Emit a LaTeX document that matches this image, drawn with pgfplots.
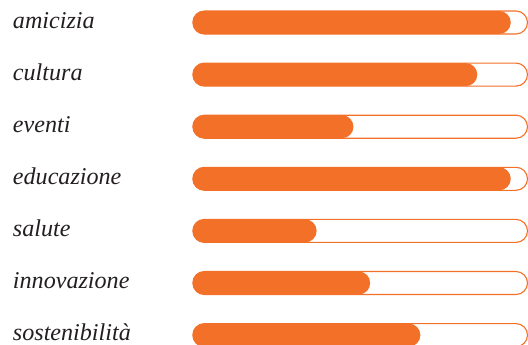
\documentclass[border=0pt]{standalone}
\usepackage{pgfplots}
\pgfplotsset{compat=1.18}
\usepackage{fontspec}
\setmainfont{Liberation Serif}
\definecolor{barc}{HTML}{F37029}
\definecolor{txt}{HTML}{231F20}
\begin{document}
\begin{tikzpicture}
\begin{axis}[
  scale only axis, width=528bp, height=345bp,
  hide axis, xmin=-57.61, xmax=100.15, ymin=-0.432, ymax=6.19, y dir=reverse,
  clip=true,
]
\addplot[xbar, bar shift=0pt, bar width=23bp, fill=white, draw=barc, line width=1.1bp, rounded corners=11.5bp]
  coordinates {(100,0) (100,1) (100,2) (100,3) (100,4) (100,5) (100,6)};
\addplot[xbar, bar shift=0pt, bar width=23bp, fill=barc, draw=none, rounded corners=11.5bp]
  coordinates {(95,0) (85,1) (48,2) (95,3) (37,4) (53,5) (68,6)};
\tikzset{lab/.style={anchor=base west, inner sep=0pt, text=txt, font=\itshape\fontsize{24.2}{28}\selectfont}}
\node[lab] at (axis cs:-53.8,0.111) {amicizia};
\node[lab] at (axis cs:-53.8,1.111) {cultura};
\node[lab] at (axis cs:-53.8,2.111) {eventi};
\node[lab] at (axis cs:-53.8,3.111) {educazione};
\node[lab] at (axis cs:-53.8,4.111) {salute};
\node[lab] at (axis cs:-53.8,5.111) {innovazione};
\node[lab] at (axis cs:-53.8,6.111) {sostenibilità};
\end{axis}
\pgfresetboundingbox
\path (current axis.south west) rectangle (current axis.north east);
\end{tikzpicture}
\end{document}
